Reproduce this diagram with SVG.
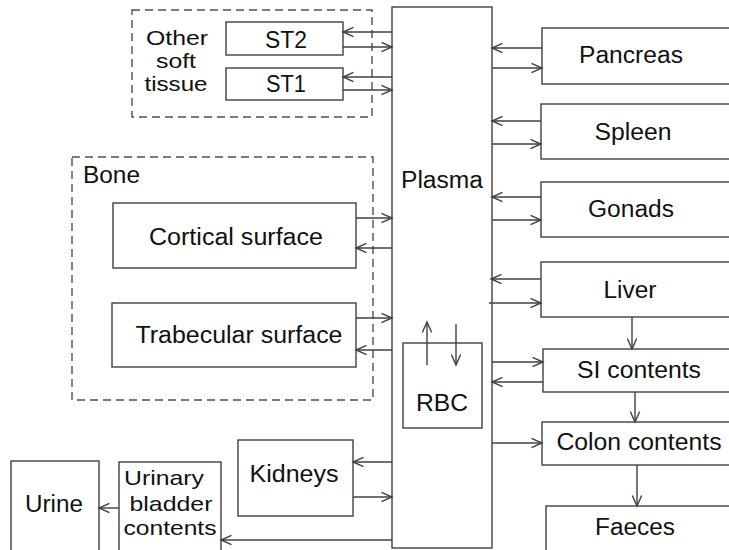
<svg xmlns="http://www.w3.org/2000/svg" width="729" height="550" viewBox="0 0 729 550">
<style>
.box{fill:#fff;stroke:#404040;stroke-width:1.4}
.dash{fill:none;stroke:#505050;stroke-width:1.4;stroke-dasharray:8,5}
.c{fill:none;stroke:#404040;stroke-width:1.4;marker-end:url(#ah)}
text{font-family:"Liberation Sans",Arial,sans-serif;font-size:23px;fill:#111;text-anchor:middle}
.l{text-anchor:start}
.s{font-size:21px}
</style>
<defs>
<marker id="ah" markerUnits="userSpaceOnUse" markerWidth="14" markerHeight="14" viewBox="0 0 14 14" refX="12" refY="7" orient="auto">
<path d="M1.5,2.3 L12,7 L1.5,11.7" fill="none" stroke="#404040" stroke-width="1.4"/>
</marker>
</defs>
<rect width="729" height="550" fill="#fff"/>

<g id="other-soft-tissue">
<rect class="dash" x="132" y="10" width="240" height="107"/>
<text class="s" x="177" y="45" textLength="62" lengthAdjust="spacingAndGlyphs">Other</text>
<text class="s" x="176" y="68" textLength="40" lengthAdjust="spacingAndGlyphs">soft</text>
<text class="s" x="176" y="91" textLength="63" lengthAdjust="spacingAndGlyphs">tissue</text>
</g>
<g id="st2"><rect class="box" x="226" y="22" width="117" height="33"/><text x="286" y="48" textLength="42" lengthAdjust="spacingAndGlyphs">ST2</text></g>
<g id="st1"><rect class="box" x="226" y="68" width="117" height="32"/><text x="286" y="92" textLength="40" lengthAdjust="spacingAndGlyphs">ST1</text></g>

<g id="bone">
<rect class="dash" x="72" y="157" width="301" height="243"/>
<text class="l" x="83" y="183" textLength="57" lengthAdjust="spacingAndGlyphs">Bone</text>
</g>
<g id="cortical"><rect class="box" x="113" y="203" width="243" height="65"/><text x="236" y="245" textLength="174" lengthAdjust="spacingAndGlyphs">Cortical surface</text></g>
<g id="trabecular"><rect class="box" x="112" y="303" width="244" height="64"/><text x="239" y="343" textLength="207" lengthAdjust="spacingAndGlyphs">Trabecular surface</text></g>

<g id="plasma"><rect class="box" x="392" y="7" width="100" height="541"/><text x="442" y="188" textLength="82" lengthAdjust="spacingAndGlyphs">Plasma</text></g>
<g id="rbc"><rect class="box" x="403" y="343" width="79" height="85"/><text x="442" y="411" textLength="52" lengthAdjust="spacingAndGlyphs">RBC</text></g>

<g id="pancreas"><rect class="box" x="542" y="28" width="200" height="56"/><text x="631" y="63" textLength="104" lengthAdjust="spacingAndGlyphs">Pancreas</text></g>
<g id="spleen"><rect class="box" x="541" y="104" width="200" height="55"/><text x="633" y="140" textLength="77" lengthAdjust="spacingAndGlyphs">Spleen</text></g>
<g id="gonads"><rect class="box" x="541" y="182" width="200" height="55"/><text x="631" y="217" textLength="86" lengthAdjust="spacingAndGlyphs">Gonads</text></g>
<g id="liver"><rect class="box" x="541" y="262" width="200" height="55"/><text x="630" y="298" textLength="53" lengthAdjust="spacingAndGlyphs">Liver</text></g>
<g id="si-contents"><rect class="box" x="543" y="349" width="200" height="43"/><text x="639" y="378" textLength="124" lengthAdjust="spacingAndGlyphs">SI contents</text></g>
<g id="colon-contents"><rect class="box" x="542" y="422" width="200" height="43"/><text x="639" y="450" textLength="165" lengthAdjust="spacingAndGlyphs">Colon contents</text></g>
<g id="faeces"><rect class="box" x="546" y="506" width="200" height="60"/><text x="635" y="535" textLength="80" lengthAdjust="spacingAndGlyphs">Faeces</text></g>

<g id="kidneys"><rect class="box" x="238" y="440" width="115" height="76"/><text x="294" y="482" textLength="89" lengthAdjust="spacingAndGlyphs">Kidneys</text></g>
<g id="urinary-bladder"><rect class="box" x="119" y="462" width="102" height="100"/>
<text class="s" x="164" y="485" textLength="80" lengthAdjust="spacingAndGlyphs">Urinary</text>
<text class="s" x="171" y="511" textLength="83" lengthAdjust="spacingAndGlyphs">bladder</text>
<text class="s" x="170" y="535" textLength="93" lengthAdjust="spacingAndGlyphs">contents</text>
</g>
<g id="urine"><rect class="box" x="11" y="461" width="88" height="100"/><text x="54" y="512" textLength="58" lengthAdjust="spacingAndGlyphs">Urine</text></g>

<g id="connectors">
<path class="c" d="M392,32 H343"/>
<path class="c" d="M343,47 H392"/>
<path class="c" d="M392,77 H343"/>
<path class="c" d="M343,90 H392"/>
<path class="c" d="M356,218 H392"/>
<path class="c" d="M392,248 H356"/>
<path class="c" d="M356,318 H392"/>
<path class="c" d="M392,350 H356"/>
<path class="c" d="M542,48 H492"/>
<path class="c" d="M492,68 H542"/>
<path class="c" d="M541,121 H492"/>
<path class="c" d="M492,144 H541"/>
<path class="c" d="M541,197 H492"/>
<path class="c" d="M492,220 H541"/>
<path class="c" d="M541,279 H491"/>
<path class="c" d="M489,303 H541"/>
<path class="c" d="M632,317 V349"/>
<path class="c" d="M492,362 H543"/>
<path class="c" d="M543,382 H492"/>
<path class="c" d="M635,392 V422"/>
<path class="c" d="M492,443 H542"/>
<path class="c" d="M637,465 V506"/>
<path class="c" d="M427,365 V322"/>
<path class="c" d="M456,324 V365"/>
<path class="c" d="M392,462 H353"/>
<path class="c" d="M353,497 H392"/>
<path class="c" d="M392,540 H221"/>
<path class="c" d="M119,508 H99"/>
</g>
</svg>
